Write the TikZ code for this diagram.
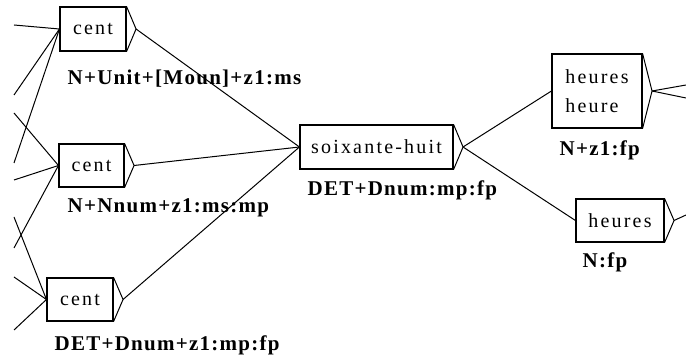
\documentclass[tikz,border=0pt]{standalone}
\usepackage{fontspec}
\setmainfont{Liberation Serif}
\newfontfamily\boxfont[LetterSpace=11]{Liberation Serif}
\newfontfamily\labfont[LetterSpace=6]{Liberation Serif}
\usetikzlibrary{positioning}
\tikzset{
box/.style={draw,line width=1.1pt,minimum height=43pt,inner sep=0pt,align=left,
  font=\boxfont\fontsize{20}{29}\selectfont},
lab/.style={anchor=west,inner sep=0pt,font=\labfont\bfseries\fontsize{21}{24}\selectfont},
arc/.style={line width=1pt}
}
\begin{document}
\begin{tikzpicture}[x=1pt,y=-1pt]
\useasboundingbox (0,0) rectangle (686,358);
% boxes
\node[box,minimum width=66pt,minimum height=44pt] (cent1) at (93,29) {cent};
\node[box,minimum width=65pt] (cent2) at (91.5,165.5) {cent};
\node[box,minimum width=66pt] (cent3) at (80,299.5) {cent};
\node[box,minimum width=153pt,minimum height=44pt] (soix) at (376.5,147) {soixante-huit};
\node[box,minimum width=90pt,minimum height=74pt] (heures1) at (597,91) {heures\\heure};
\node[box,minimum width=88pt] (heures2) at (620,220.5) {heures};
% output triangles
\foreach \b in {cent1,cent2,cent3,soix,heures1,heures2}
  \draw[arc] (\b.north east) -- ([xshift=9.5pt]\b.east) coordinate (\b-tip) -- (\b.south east);
% labels
\node[lab] (lab1) at ([shift={(8,27)}]cent1.south west) {N+Unit+[Moun]+z1:ms};
\node[lab] (lab2) at ([shift={(9,20)}]cent2.south west) {N+Nnum+z1:ms:mp};
\node[lab] (lab3) at ([shift={(8,24)}]cent3.south west) {DET+Dnum+z1:mp:fp};
\node[lab] (lab4) at ([shift={(8,21)}]soix.south west) {DET+Dnum:mp:fp};
\node[lab] (lab5) at ([shift={(8,22)}]heures1.south west) {N+z1:fp};
\node[lab] (lab6) at ([shift={(7,20)}]heures2.south west) {N:fp};
% cut ends
\coordinate (in1) at (14,25);
\coordinate (in2) at (14,95);
\coordinate (in3) at (14,163);
\coordinate (in4) at (14,113);
\coordinate (in5) at (14,180);
\coordinate (in6) at (14,248);
\coordinate (in7) at (14,217);
\coordinate (in8) at (14,277);
\coordinate (in9) at (14,330);
\coordinate (out1) at (686,85);
\coordinate (out2) at (686,98);
\coordinate (out3) at (686,215);
% transitions
\foreach \i in {in1,in2,in3} \draw[arc] (\i) -- (cent1.west);
\foreach \i in {in4,in5,in6} \draw[arc] (\i) -- (cent2.west);
\foreach \i in {in7,in8,in9} \draw[arc] (\i) -- (cent3.west);
\foreach \c in {cent1,cent2,cent3} \draw[arc] (\c-tip) -- (soix.west);
\draw[arc] (soix-tip) -- (heures1.west);
\draw[arc] (soix-tip) -- (heures2.west);
\draw[arc] (heures1-tip) -- (out1);
\draw[arc] (heures1-tip) -- (out2);
\draw[arc] (heures2-tip) -- (out3);
\end{tikzpicture}
\end{document}
